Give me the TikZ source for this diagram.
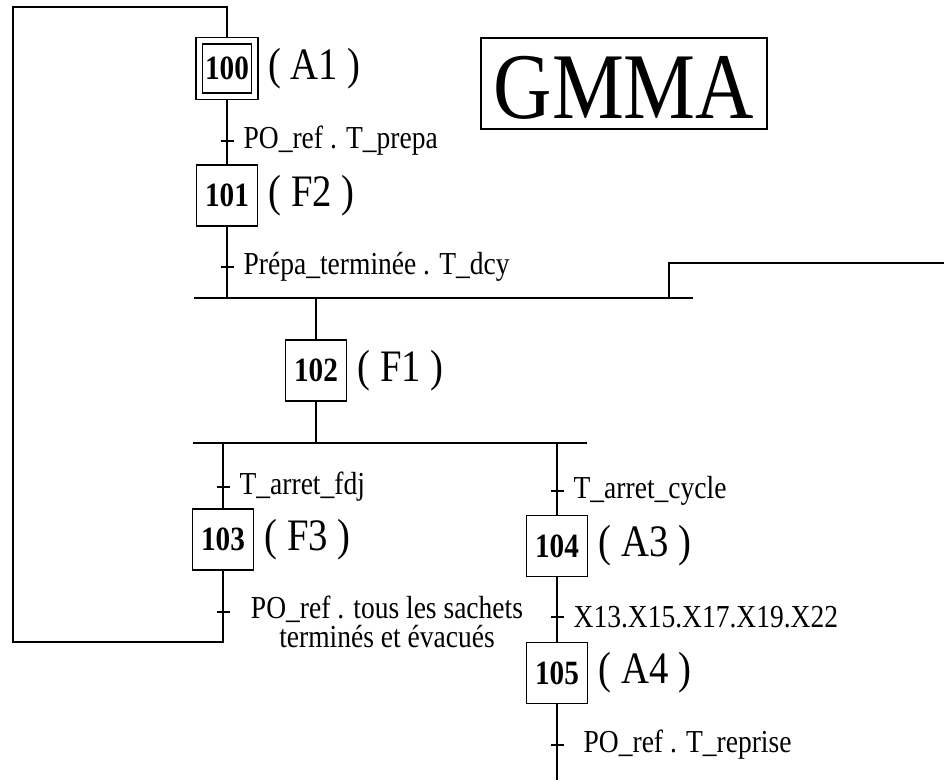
\documentclass[tikz,border=0pt]{standalone}
\usepackage{fontspec}
\setmainfont{Liberation Serif}[FakeStretch=0.86]
\usetikzlibrary{positioning}

\begin{document}
\begin{tikzpicture}[x=1pt, y=-1pt, line width=1.3pt,
  stepbox/.style={draw, minimum size=61pt, inner sep=0pt,
                  font=\fontsize{34}{36}\selectfont\bfseries},
  initbox/.style={stepbox, minimum size=55.5pt, double, double distance=5.2pt,
                  outer sep=3.9pt},
  action/.style={inner sep=0pt, font=\fontsize{45}{48}\selectfont},
  cond/.style={inner sep=0pt, font=\fontsize{32}{29}\selectfont, align=center}]
  \useasboundingbox (0,0) rectangle (944,780);

  % title
  \node[draw, minimum width=286pt, minimum height=91pt, inner sep=0pt,
        text height=70pt, text depth=0pt, font=\fontsize{94}{100}\selectfont]
        (title) at (624,83.5) {GMMA};

  % steps
  \node[initbox] (s100) at (227,68.5) {100};
  \node[stepbox] (s101) at (227,195.5) {101};
  \node[stepbox] (s102) at (316,370.5) {102};
  \node[stepbox] (s103) at (223,539.5) {103};
  \node[stepbox] (s104) at (557,546) {104};
  \node[stepbox] (s105) at (557,673) {105};

  \node[action, right=9pt of s100] (a100) {( A1 )};
  \node[action, right=10pt of s101] (a101) {( F2 )};
  \node[action, right=10pt of s102] (a102) {( F1 )};
  \node[action, right=10pt of s103] (a103) {( F3 )};
  \node[action, right=10pt of s104] (a104) {( A3 )};
  \node[action, right=10pt of s105] (a105) {( A4 )};

  % junction lines and loop ends
  \coordinate (or1L) at (194,298);
  \coordinate (or1R) at (693,298);
  \coordinate (or2L) at (193,443);
  \coordinate (or2R) at (587,443);
  \coordinate (jR) at (669,298);
  \coordinate (fromR) at (944,263);
  \coordinate (bl) at (13,642);
  \coordinate (tl) at (13,7);
  \coordinate (bot) at (557,780);

  \draw (or1L) -- (or1R);
  \draw (or2L) -- (or2R);
  \draw (fromR) -| (jR);

  % links
  \draw (s100) -- (s101);
  \draw (s101) -- (s101 |- or1L);
  \draw (s102) -- (s102 |- or1L);
  \draw (s102) -- (s102 |- or2L);
  \draw (s103) -- (s103 |- or2L);
  \draw (s104) -- (s104 |- or2L);
  \draw (s104) -- (s105);
  \draw (s105) -- (bot);
  \draw (s103) |- (bl) -- (tl) -| (s100);

  % transitions
  \coordinate (r1) at (227,141);
  \coordinate (r2) at (227,267);
  \coordinate (r3) at (223,487);
  \coordinate (r4) at (557,491);
  \coordinate (r5) at (223,612);
  \coordinate (r6) at (557,617);
  \coordinate (r7) at (557,745);
  \foreach \r in {r1,r2,r3,r4,r5,r6,r7}
    \draw (\r) +(-6.5,0) -- +(6.5,0);

  \node[cond, right=16pt of r1] (c1) {PO\_ref . T\_prepa};
  \node[cond, right=16pt of r2] (c2) {Prépa\_terminée . T\_dcy};
  \node[cond, right=16pt of r3] (c3) {T\_arret\_fdj};
  \node[cond, right=16pt of r4] (c4) {T\_arret\_cycle};
  \node[cond] (c5) at (387,622) {PO\_ref . tous les sachets\\terminés et évacués};
  \node[cond, right=16pt of r6] (c6) {X13.X15.X17.X19.X22};
  \node[cond, right=26pt of r7] (c7) {PO\_ref . T\_reprise};
\end{tikzpicture}
\end{document}
